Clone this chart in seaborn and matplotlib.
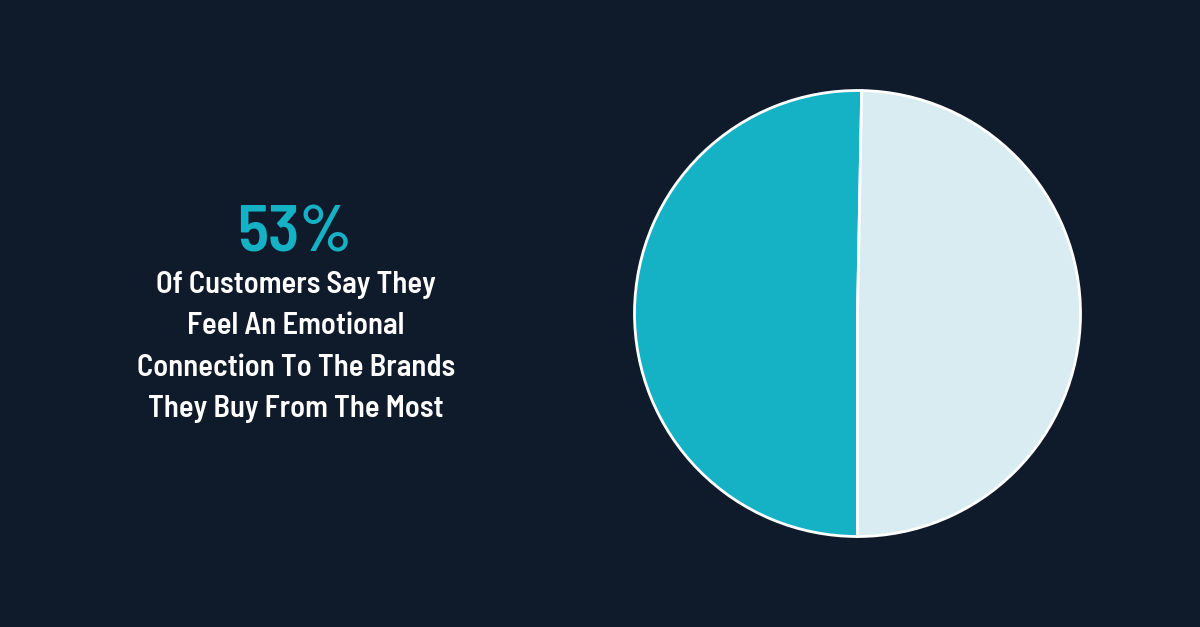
import matplotlib
matplotlib.use("Agg")
import matplotlib.pyplot as plt
import seaborn as sns

# data
labels = ["Feel an emotional connection", "Other"]
values = [50.3, 49.7]
headline = "53%"
caption = ["Of Customers Say They", "Feel An Emotional",
           "Connection To The Brands", "They Buy From The Most"]

bg = "#0F1A2A"
teal = "#15B1C5"
light = "#D9ECF2"

sns.set_theme(style="dark", rc={"figure.facecolor": bg, "axes.facecolor": bg})
plt.rcParams["font.family"] = ["Barlow Semi Condensed", "Roboto Condensed", "DejaVu Sans"]

fig = plt.figure(figsize=(12, 6.27), dpi=100)

# pie, center ~(857, 313) px, radius ~223 px
W, H = 1200, 627
cx, cy, r = 857.5, 313.5, 223
lim = 1.03
half = r * lim
ax = fig.add_axes([(cx - half) / W, (H - cy - half) / H, 2 * half / W, 2 * half / H])
ax.pie(values, colors=[teal, light], startangle=270, counterclock=False,
       wedgeprops={"edgecolor": "white", "linewidth": 2})
ax.set_xlim(-lim, lim)
ax.set_ylim(-lim, lim)
ax.set_aspect("equal")
ax.axis("off")

# text on the left
fig.text(295 / W, 1 - 235 / H, headline, color=teal, fontsize=47, fontweight=600,
         ha="center", va="center")
ys = [285, 326, 368, 409]
for t, y in zip(caption, ys):
    fig.text(296 / W, 1 - y / H, t, color="white", fontsize=22, fontweight=600,
             ha="center", va="center")

plt.savefig("out.png", dpi=100, facecolor=bg)
